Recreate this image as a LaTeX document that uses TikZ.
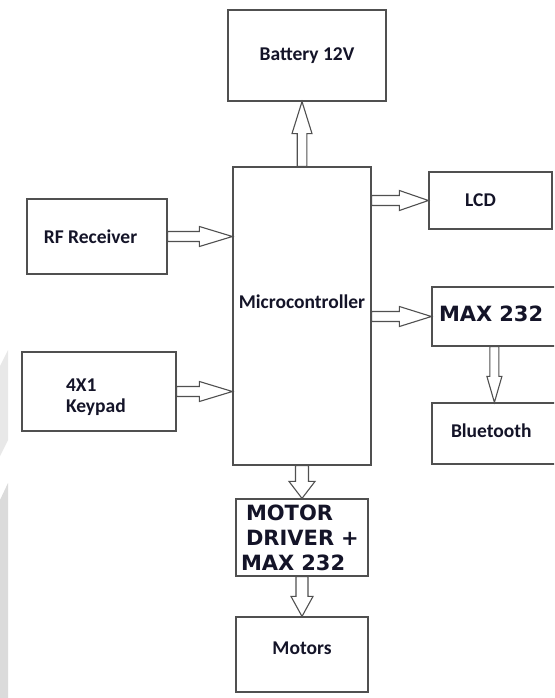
\documentclass[tikz,border=0pt]{standalone}
\usepackage{fontspec}
\setmainfont{Carlito}
\newfontfamily\dvb{DejaVu Sans}
\usetikzlibrary{calc}
\definecolor{lc}{RGB}{80,80,80}
\definecolor{tc}{RGB}{20,20,40}
\tikzset{
  blk/.style={draw=lc, line width=1.2pt, rectangle, inner sep=0pt, text=tc,
     font=\fontsize{19.5}{21}\selectfont\bfseries},
  hollow/.style={draw=lc, fill=white, line width=1.1pt, line join=miter},
  mx/.style={font=\fontsize{21}{25}\selectfont\dvb\bfseries}
}
\newcommand\shiftup[2]{\raisebox{#1}[\height][\depth]{#2}}
% rightward hollow arrow: #1 start (gives y), #2 end (gives x), #3 head length, #4 head half width, #5 shaft half width
\newcommand\harrow[5]{%
  \draw[hollow] let \p1=#1, \p2=#2 in
    ({\x1},{\y1+#5}) -- ({\x2-#3},{\y1+#5}) -- ({\x2-#3},{\y1+#4}) -- ({\x2},{\y1})
    -- ({\x2-#3},{\y1-#4}) -- ({\x2-#3},{\y1-#5}) -- ({\x1},{\y1-#5}) -- cycle;}
% vertical hollow arrow: #1 start (gives x), #2 end (gives y), #3 signed head length, #4 head half, #5 shaft half
\newcommand\varrow[5]{%
  \draw[hollow] let \p1=#1, \p2=#2 in
    ({\x1-#5},{\y1}) -- ({\x1-#5},{\y2+(#3)}) -- ({\x1-#4},{\y2+(#3)}) -- ({\x1},{\y2})
    -- ({\x1+#4},{\y2+(#3)}) -- ({\x1+#5},{\y2+(#3)}) -- ({\x1+#5},{\y1}) -- cycle;}
\begin{document}
\begin{tikzpicture}[x=1pt,y=-1pt]
\useasboundingbox (0,0) rectangle (554,698);
\clip (0,0) rectangle (554,698);
\fill[white] (0,0) rectangle (554,698);
% faint watermark at the left edge
\fill[gray!18] (0,366) -- (8,350) -- (8,440) -- (0,456) -- cycle;
\fill[gray!28] (0,500) -- (8,483) -- (8,698) -- (0,698) -- cycle;

\node[blk, minimum width=158pt, minimum height=91pt] (bat) at (307,55.5) {Battery 12V};
\node[blk, minimum width=138pt, minimum height=298pt] (mcu) at (302,316) {\shiftup{14pt}{Microcontroller}};
\node[blk, minimum width=140pt, minimum height=75pt] (rf) at (97,236.5) {\hspace*{-13pt}RF Receiver};
\node[blk, minimum width=123pt, minimum height=57pt] (lcd) at (490.5,200.5) {\hspace*{-20pt}LCD};
\node[blk, minimum width=154pt, minimum height=79pt, text width=66pt, align=left, inner xsep=44pt] (kp) at (99,391.5) {\shiftup{-6pt}{\parbox{66pt}{4X1\\Keypad}}};
\node[blk, mx, minimum width=168pt, minimum height=59pt, text width=154pt, align=left, inner xsep=7pt] (max) at (516,316.5) {\shiftup{2.5pt}{MAX 232}};
\node[blk, minimum width=168pt, minimum height=61pt, text width=130pt, align=left, inner xsep=19pt] (bt) at (516,433.5) {\shiftup{2.5pt}{Bluetooth}};
\node[blk, mx, minimum width=132pt, minimum height=77pt, text width=122pt, align=left, inner xsep=5pt] (drv) at (302,537.5) {\hspace*{5pt}MOTOR\\\hspace*{5pt}DRIVER +\\MAX 232};
\node[blk, minimum width=132pt, minimum height=75pt] (mot) at (302,654.5) {\shiftup{6.5pt}{Motors}};

\coordinate (btin) at ($(max.south west)+(63,0)$);

\varrow{(mcu.north)}{(bat.south)}{-32pt}{10pt}{4.8pt}
\harrow{(rf.east)}{(mcu.west)}{33pt}{10pt}{5pt}
\harrow{(kp.east)}{(mcu.west)}{33pt}{10pt}{5pt}
\harrow{(mcu.east |- lcd.west)}{(lcd.west)}{29pt}{10pt}{5pt}
\harrow{(mcu.east |- max.west)}{(max.west)}{32pt}{10pt}{5pt}
\varrow{(btin)}{(bt.north -| btin)}{26pt}{7.5pt}{4.5pt}
\varrow{(mcu.south)}{(drv.north)}{17pt}{13pt}{6.5pt}
\varrow{(drv.south)}{(mot.north)}{20pt}{11pt}{6pt}
\end{tikzpicture}
\end{document}
